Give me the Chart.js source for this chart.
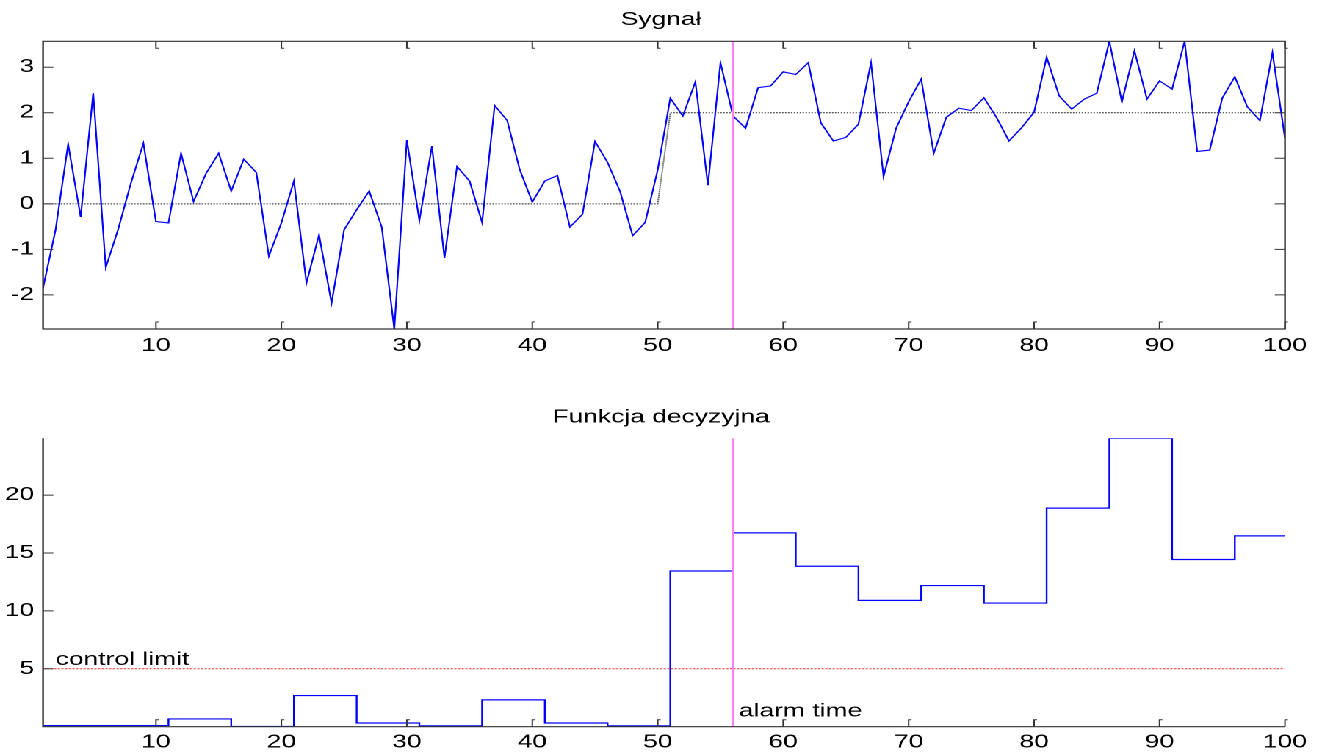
<!DOCTYPE html>
<html>
<head>
<meta charset="utf-8">
<title>Sygnał / Funkcja decyzyjna</title>
<script src="https://cdn.jsdelivr.net/npm/chart.js@4.4.1/dist/chart.umd.min.js"></script>
<style>
  html, body { margin: 0; background: #fff; overflow: hidden; }
  /* the figure was exported stretched sideways, so draw narrow and widen */
  #wrap { width: 900px; height: 755px; transform: scaleX(1.4689); transform-origin: 0 0; }
  canvas { display: block; }
</style>
</head>
<body>
<div id="wrap">
  <canvas id="sig" width="900" height="370"></canvas>
  <canvas id="dec" width="900" height="385"></canvas>
</div>
<script>
// ===== DATA =====
const signal = [
  -1.85, -0.57, 1.31, -0.29, 2.43, -1.40, -0.55, 0.45, 1.33, -0.39,
  -0.42, 1.11, 0.05, 0.67, 1.11, 0.28, 0.98, 0.69, -1.15, -0.42,
  0.50, -1.74, -0.68, -2.18, -0.57, -0.13, 0.28, -0.51, -2.75, 1.40,
  -0.37, 1.27, -1.19, 0.82, 0.50, -0.41, 2.16, 1.83, 0.75, 0.04,
  0.50, 0.62, -0.51, -0.23, 1.37, 0.91, 0.27, -0.70, -0.41, 0.75,
  2.32, 1.93, 2.68, 0.41, 3.10, 1.93, 1.66, 2.55, 2.59, 2.90,
  2.84, 3.10, 1.78, 1.38, 1.46, 1.75, 3.10, 0.60, 1.66, 2.24,
  2.74, 1.11, 1.90, 2.10, 2.05, 2.33, 1.90, 1.38, 1.67, 2.01,
  3.22, 2.37, 2.08, 2.30, 2.43, 3.57, 2.24, 3.36, 2.30, 2.70,
  2.52, 3.57, 1.15, 1.18, 2.32, 2.79, 2.13, 1.83, 3.32, 1.44
];
const meanX = [1, 50, 51, 100];
const meanY = [0, 0, 2, 2];

const stepStart = [1, 11, 16, 21, 26, 31, 36, 41, 46, 51, 56, 61, 66, 71, 76, 81, 86, 91, 96, 100];
const stepValue = [0.09, 0.67, 0.02, 2.69, 0.32, 0.07, 2.32, 0.32, 0.07, 13.45,
                   16.74, 13.86, 10.91, 12.19, 10.68, 18.88, 24.91, 14.44, 16.48, 16.48];

const controlLimit = 5;
const alarmTime = 56;
const xFirst = 1, xLast = 100;

const xTicks = [10, 20, 30, 40, 50, 60, 70, 80, 90, 100];
const sigTicks = [-2, -1, 0, 1, 2, 3];
const decTicks = [5, 10, 15, 20];

// ===== STYLE =====
const FONT = "'Liberation Sans', Arial, Helvetica, sans-serif";
const AXIS = '#333';
Chart.defaults.font.family = FONT;
Chart.defaults.font.size = 18;
Chart.defaults.color = '#000';

// ===== PLUGINS =====
// matlab style frame with inward ticks
const frame = {
  id: 'frame',
  afterDatasetsDraw(chart, args, opts) {
    const { ctx, chartArea: a, scales } = chart;
    ctx.save();
    ctx.strokeStyle = AXIS;
    ctx.lineWidth = 1.2;
    ctx.beginPath();
    if (opts.box) {
      ctx.rect(a.left, a.top, a.right - a.left, a.bottom - a.top);
    } else {
      ctx.moveTo(a.left, a.top);
      ctx.lineTo(a.left, a.bottom);
      ctx.lineTo(a.right, a.bottom);
    }
    ctx.stroke();

    ctx.lineWidth = 1;
    ctx.beginPath();
    scales.x.ticks.forEach(t => {
      const px = scales.x.getPixelForValue(t.value);
      ctx.moveTo(px, a.bottom); ctx.lineTo(px, a.bottom - 7); ctx.lineTo(px + 2, a.bottom - 7);
      if (opts.box) { ctx.moveTo(px, a.top); ctx.lineTo(px, a.top + 7); ctx.lineTo(px + 2, a.top + 7); }
    });
    scales.y.ticks.forEach(t => {
      const py = scales.y.getPixelForValue(t.value);
      ctx.moveTo(a.left, py); ctx.lineTo(a.left + 7, py);
      if (opts.box) { ctx.moveTo(a.right, py); ctx.lineTo(a.right - 7, py); }
    });
    ctx.stroke();
    ctx.restore();
  }
};

const notes = {
  id: 'notes',
  afterDatasetsDraw(chart, args, opts) {
    if (!opts.items) return;
    const { ctx, scales } = chart;
    ctx.save();
    ctx.font = '18px ' + FONT;
    ctx.fillStyle = '#000';
    ctx.textAlign = 'left';
    ctx.textBaseline = 'alphabetic';
    opts.items.forEach(n => {
      ctx.fillText(n.text, scales.x.getPixelForValue(n.x) + n.dx, scales.y.getPixelForValue(n.y) + n.dy);
    });
    ctx.restore();
  }
};

// ===== CHARTS =====
function makeOptions(title, pad, yMin, yMax, yTicks, xAxisH, xPad, box, items) {
  return {
    responsive: false,
    devicePixelRatio: 2,
    animation: false,
    events: [],
    parsing: false,
    layout: { padding: 0 },
    plugins: {
      legend: { display: false },
      tooltip: { enabled: false },
      title: { display: true, text: title, color: '#000', font: { size: 18, weight: 'normal' }, padding: pad },
      frame: { box },
      notes: { items }
    },
    scales: {
      x: {
        type: 'linear', min: xFirst, max: xLast,
        afterBuildTicks: s => { s.ticks = xTicks.map(v => ({ value: v })); },
        afterFit: s => { s.height = xAxisH; },
        grid: { display: false, drawTicks: false },
        border: { display: false },
        ticks: { padding: xPad, maxRotation: 0 }
      },
      y: {
        type: 'linear', min: yMin, max: yMax,
        afterBuildTicks: s => { s.ticks = yTicks.map(v => ({ value: v })); },
        afterFit: s => { s.width = 29.3; },
        grid: { display: false, drawTicks: false },
        border: { display: false },
        ticks: { padding: 6 }
      },
      yr: {
        type: 'linear', position: 'right', min: yMin, max: yMax,
        afterFit: s => { s.width = 25.2; },
        grid: { display: false, drawTicks: false },
        border: { display: false },
        ticks: { display: false }
      }
    }
  };
}

const sigMin = Math.min(...signal), sigMax = Math.max(...signal);

new Chart(document.getElementById('sig'), {
  type: 'line',
  data: {
    datasets: [
      {
        data: [{ x: alarmTime, y: sigMin }, { x: alarmTime, y: sigMax }],
        borderColor: '#ff80ff', borderWidth: 1.4, pointRadius: 0
      },
      {
        data: signal.map((v, i) => ({ x: i + 1, y: v })),
        borderColor: '#0000ff', borderWidth: 1.1, pointRadius: 0, tension: 0
      },
      {
        data: meanX.map((x, i) => ({ x, y: meanY[i] })),
        borderColor: '#222', borderWidth: 1, borderDash: [1, 1], pointRadius: 0
      }
    ]
  },
  options: makeOptions('Sygnał', { top: 9.2, bottom: 10.5 }, sigMin, sigMax, sigTicks, 41, 6, true, null),
  plugins: [frame, notes]
});

const decMax = Math.max(...stepValue);

new Chart(document.getElementById('dec'), {
  type: 'line',
  data: {
    datasets: [
      {
        data: [{ x: alarmTime, y: 0 }, { x: alarmTime, y: decMax }],
        borderColor: '#ff80ff', borderWidth: 1.4, pointRadius: 0
      },
      {
        data: [{ x: xFirst, y: controlLimit }, { x: xLast, y: controlLimit }],
        borderColor: '#ff3030', borderWidth: 1, borderDash: [1.5, 1], pointRadius: 0
      },
      {
        data: stepStart.map((x, i) => ({ x, y: stepValue[i] })),
        borderColor: '#0000ff', borderWidth: 1.2, pointRadius: 0, stepped: 'before'
      }
    ]
  },
  options: makeOptions('Funkcja decyzyjna', { top: 36.7, bottom: 10 }, 0, decMax, decTicks, 28.3, 5, false, [
    { text: 'control limit', x: 2, y: controlLimit, dx: 0, dy: -4 },
    { text: 'alarm time', x: alarmTime, dx: 4, y: 0, dy: -10 }
  ]),
  plugins: [frame, notes]
});
</script>
</body>
</html>
